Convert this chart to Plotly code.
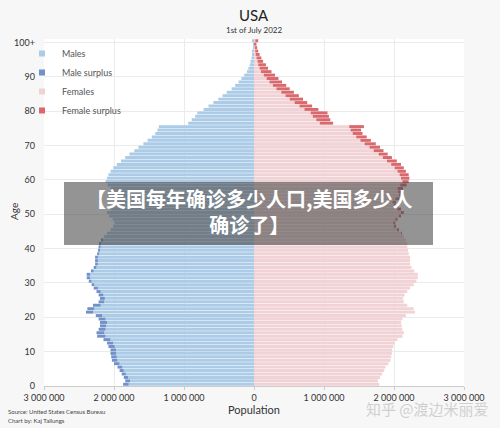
import plotly.graph_objects as go

# ---------------- data (population, millions) ----------------
ages = list(range(0, 101))
age_tick_vals = [0, 10, 20, 30, 40, 50, 60, 70, 80, 90, 100]
age_tick_text = ["0", "10", "20", "30", "40", "50", "60", "70", "80", "90", "100+"]
pop_tick_vals = [-3e6, -2e6, -1e6, 0, 1e6, 2e6, 3e6]
pop_tick_text = ["3 000 000", "2 000 000", "1 000 000", "0", "1 000 000", "2 000 000", "3 000 000"]

males_m = [
    1.87, 1.84, 1.86, 1.89, 1.92, 1.95, 2.00, 2.03, 2.04, 2.05,   # 0-9
    2.05, 2.08, 2.10, 2.15, 2.24, 2.25, 2.22, 2.20, 2.20, 2.22,   # 10-19
    2.26, 2.40, 2.38, 2.30, 2.22, 2.20, 2.22, 2.25, 2.29, 2.32,   # 20-29
    2.36, 2.39, 2.39, 2.33, 2.29, 2.27, 2.27, 2.27, 2.24, 2.22,   # 30-39
    2.22, 2.21, 2.18, 2.14, 2.10, 2.05, 2.01, 1.99, 2.02, 2.07,   # 40-49
    2.10, 2.05, 2.00, 1.98, 2.02, 2.07, 2.06, 2.05, 2.09, 2.12,   # 50-59
    2.10, 2.08, 2.05, 2.01, 1.96, 1.90, 1.84, 1.78, 1.71, 1.65,   # 60-69
    1.58, 1.52, 1.46, 1.41, 1.38, 1.36, 0.94, 0.89, 0.84, 0.81,   # 70-79
    0.72, 0.65, 0.58, 0.51, 0.45, 0.39, 0.32, 0.27, 0.22, 0.18,   # 80-89
    0.14, 0.10, 0.08, 0.06, 0.05, 0.035, 0.025, 0.018, 0.013, 0.009,  # 90-99
    0.02,                                                          # 100+
]
females_m = [
    1.79, 1.77, 1.80, 1.83, 1.86, 1.88, 1.92, 1.95, 1.96, 1.97,   # 0-9
    1.97, 1.99, 2.01, 2.05, 2.12, 2.14, 2.12, 2.11, 2.10, 2.12,   # 10-19
    2.17, 2.30, 2.28, 2.19, 2.14, 2.13, 2.15, 2.19, 2.23, 2.28,   # 20-29
    2.32, 2.34, 2.34, 2.29, 2.25, 2.23, 2.23, 2.23, 2.21, 2.20,   # 30-39
    2.19, 2.19, 2.17, 2.14, 2.11, 2.07, 2.03, 2.02, 2.05, 2.10,   # 40-49
    2.14, 2.10, 2.05, 2.03, 2.08, 2.14, 2.14, 2.13, 2.18, 2.21,   # 50-59
    2.22, 2.21, 2.17, 2.14, 2.10, 2.04, 1.97, 1.91, 1.85, 1.80,   # 60-69
    1.74, 1.67, 1.61, 1.55, 1.53, 1.57, 1.13, 1.09, 1.07, 1.05,   # 70-79
    0.92, 0.83, 0.76, 0.70, 0.64, 0.57, 0.51, 0.46, 0.40, 0.35,   # 80-89
    0.30, 0.25, 0.20, 0.17, 0.13, 0.105, 0.08, 0.06, 0.045, 0.035,  # 90-99
    0.06,                                                          # 100+
]

males = [v * 1e6 for v in males_m]
females = [v * 1e6 for v in females_m]
common = [min(m, f) for m, f in zip(males, females)]
male_surplus = [m - c for m, c in zip(males, common)]
female_surplus = [f - c for f, c in zip(females, common)]
y_pos = [a + 0.5 for a in ages]

C_MALE = "#abcbe7"
C_MALE_S = "#7191c8"
C_FEM = "#f1d2d5"
C_FEM_S = "#d9696c"

# ---------------- layout helpers ----------------
W, H = 500, 428
L, R, T, B = 44, 36, 39, 42
PW, PH = W - L - R, H - T - B


def px_x(x):
    return (x - L) / PW


def px_y(y):
    return (H - B - y) / PH


fig = go.Figure()
fig.add_bar(y=y_pos, x=[-v for v in common], orientation="h", marker_color=C_MALE,
            marker_line_width=0, showlegend=False, name="Males")
fig.add_bar(y=y_pos, x=[-v for v in male_surplus], orientation="h", marker_color=C_MALE_S,
            marker_line_width=0, showlegend=False, name="Male surplus")
fig.add_bar(y=y_pos, x=common, orientation="h", marker_color=C_FEM,
            marker_line_width=0, showlegend=False, name="Females")
fig.add_bar(y=y_pos, x=female_surplus, orientation="h", marker_color=C_FEM_S,
            marker_line_width=0, showlegend=False, name="Female surplus")

for nm, col in [("Males", C_MALE), ("Male surplus", C_MALE_S),
                ("Females", C_FEM), ("Female surplus", C_FEM_S)]:
    fig.add_scatter(x=[None], y=[None], mode="markers", name=nm,
                    marker=dict(symbol="square", size=6, color=col))

font_main = "Lato, 'Open Sans', sans-serif"

fig.update_layout(
    width=W, height=H,
    margin=dict(l=L, r=R, t=T, b=B),
    barmode="relative",
    bargap=0.14,
    paper_bgcolor="#f7f7f7",
    plot_bgcolor="#ffffff",
    font=dict(family=font_main, color="#333333", size=9),
    showlegend=True,
    legend=dict(x=px_x(22), y=px_y(39), xanchor="left", yanchor="top",
                bgcolor="rgba(0,0,0,0)", font=dict(size=9, color="#555555"),
                itemwidth=30, tracegroupgap=0),
    xaxis=dict(range=[-3e6, 3e6], tickvals=pop_tick_vals, ticktext=pop_tick_text,
               showgrid=True, gridcolor="#ebebeb", gridwidth=1, zeroline=False,
               showline=True, linecolor="#cccccc", linewidth=1,
               ticks="outside", ticklen=3, tickcolor="#cccccc",
               tickfont=dict(size=9, color="#333333"),
               title=dict(text="Population", font=dict(size=11, color="#333333"), standoff=4),
               fixedrange=True),
    yaxis=dict(range=[0, 101], tickvals=age_tick_vals, ticktext=age_tick_text,
               showgrid=True, gridcolor="#ebebeb", gridwidth=1, zeroline=False,
               showline=False, ticks="", ticklabelstandoff=8,
               tickfont=dict(size=9, color="#333333"), fixedrange=True),
)

annotations = [
    dict(text="USA", x=px_x(254), y=px_y(15), font=dict(size=15, color="#222222")),
    dict(text="1st of July 2022", x=px_x(254), y=px_y(30.5), font=dict(size=8, color="#333333")),
    dict(text="Age", x=px_x(14), y=px_y(212), textangle=-90, font=dict(size=10, color="#333333")),
    dict(text="Source: United States Census Bureau", x=px_x(6), y=px_y(411.5), xanchor="left",
         font=dict(size=6, color="#444444")),
    dict(text="Chart by: Kaj Tallungs", x=px_x(6), y=px_y(420), xanchor="left",
         font=dict(size=6, color="#444444")),
    dict(text="知乎 @渡边米丽爱", x=px_x(427), y=px_y(408),
         font=dict(size=15, color="rgba(205,205,205,0.95)", family="Noto Sans CJK SC")),
    dict(text="<b>【美国每年确诊多少人口,美国多少人<br>确诊了】</b>", x=px_x(249), y=px_y(211),
         font=dict(size=20, color="#ffffff", family="Noto Sans CJK SC"), align="center"),
]
for a in annotations:
    a.setdefault("xanchor", "center")
    a.update(xref="paper", yref="paper", yanchor="middle", showarrow=False)
fig.update_layout(annotations=annotations)

fig.add_shape(type="rect", xref="paper", yref="paper",
              x0=px_x(64), x1=px_x(433), y0=px_y(245), y1=px_y(182),
              fillcolor="rgba(70,70,70,0.58)", line_width=0, layer="above")

fig.write_html("out.html")
